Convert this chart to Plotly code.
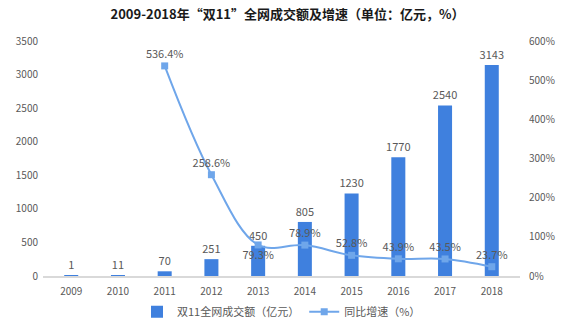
import plotly.graph_objects as go

years = ["2009", "2010", "2011", "2012", "2013", "2014", "2015", "2016", "2017", "2018"]
gmv = [1, 11, 70, 251, 450, 805, 1230, 1770, 2540, 3143]
growth = [None, None, 536.4, 258.6, 79.3, 78.9, 52.8, 43.9, 43.5, 23.7]
growth_pos = [None, None, "top center", "top center", "bottom center", "top center",
              "top center", "top center", "top center", "top center"]

FONT = "Noto Sans CJK SC"
GREY = "#595959"

fig = go.Figure()
fig.add_trace(go.Bar(
    x=years, y=gmv, name="双11全网成交额（亿元）",
    marker=dict(color="#3f80de", line=dict(width=0)),
    text=[str(v) for v in gmv], textposition="outside", constraintext="none",
    textfont=dict(size=11, color=GREY, family=FONT),
    cliponaxis=False,
))
fig.add_trace(go.Scatter(
    x=years, y=growth, name="同比增速（%）", yaxis="y2",
    mode="lines+markers+text",
    line=dict(color="#6fa6ea", width=2, shape="spline", smoothing=1.0),
    marker=dict(symbol="square", size=7, color="#6fa6ea"),
    text=[f"{v}%" if v is not None else "" for v in growth],
    textposition=[p if p else "top center" for p in growth_pos],
    textfont=dict(size=11, color=GREY, family=FONT),
    cliponaxis=False,
))

fig.update_layout(
    width=575, height=328,
    margin=dict(l=43, r=55, t=41, b=52, autoexpand=False),
    paper_bgcolor="white", plot_bgcolor="white",
    font=dict(family=FONT, size=10, color=GREY),
    title=dict(text="<b>2009-2018年“双11”全网成交额及增速（单位：亿元，%）</b>",
               x=0.5, xanchor="center", y=0.955, yanchor="middle",
               font=dict(size=13, color="#1a1a1a", family=FONT)),
    bargap=0.7,
    showlegend=True,
    legend=dict(orientation="h", x=0.5, xanchor="center",
                yref="container", y=0.005, yanchor="bottom",
                font=dict(size=11, color=GREY, family=FONT),
                itemwidth=30, tracegroupgap=0, bgcolor="rgba(0,0,0,0)"),
    xaxis=dict(showgrid=False, showline=True, linecolor="#d9d9d9", linewidth=2,
               ticks="", tickfont=dict(size=10, color=GREY), ticklabelstandoff=5),
    yaxis=dict(range=[0, 3500], dtick=500, showgrid=False, zeroline=False,
               showline=False, ticks="", tickfont=dict(size=10, color=GREY),
               ticklabelstandoff=4),
    yaxis2=dict(range=[0, 600], dtick=100, overlaying="y", side="right",
                showgrid=False, zeroline=False, showline=False, ticks="",
                ticksuffix="%", tickfont=dict(size=10, color=GREY),
                ticklabelstandoff=8),
)

fig.write_html("out.html")
